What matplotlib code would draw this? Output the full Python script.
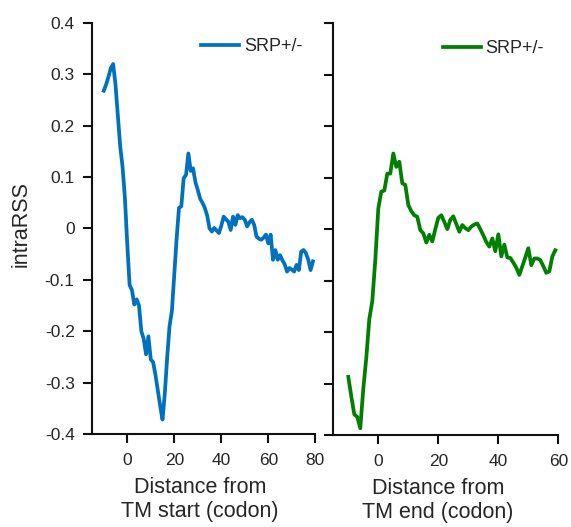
import numpy as np
import matplotlib.pyplot as plt

# intraRSS profiles around the transmembrane segment (SRP+/-)
start_pos = np.arange(-10, 80)
start_rss = [
    0.268, 0.280, 0.295, 0.312, 0.320, 0.280, 0.220, 0.160, 0.120, 0.060,
    -0.030, -0.110, -0.120, -0.148, -0.138, -0.150, -0.200, -0.215, -0.245, -0.210,
    -0.255, -0.260, -0.285, -0.315, -0.345, -0.372, -0.320, -0.250, -0.190, -0.160,
    -0.090, -0.020, 0.040, 0.043, 0.098, 0.104, 0.146, 0.112, 0.117, 0.090,
    0.075, 0.058, 0.050, 0.040, 0.025, 0.000, -0.006, 0.001, -0.004, -0.009,
    0.005, 0.023, 0.018, 0.013, -0.003, 0.023, 0.007, 0.026, 0.020, 0.022,
    0.017, 0.004, 0.012, 0.017, 0.007, -0.016, -0.020, -0.022, -0.018, -0.012,
    -0.029, -0.012, -0.061, -0.042, -0.061, -0.052, -0.062, -0.070, -0.084, -0.077,
    -0.080, -0.084, -0.071, -0.081, -0.045, -0.042, -0.048, -0.061, -0.081, -0.064,
]

end_pos = np.arange(-10, 60)
end_rss = [
    -0.287, -0.325, -0.360, -0.365, -0.387, -0.310, -0.250, -0.175, -0.140, -0.060,
    0.040, 0.073, 0.075, 0.108, 0.108, 0.147, 0.121, 0.131, 0.089, 0.086,
    0.047, 0.035, 0.027, 0.024, -0.002, -0.008, -0.026, -0.011, -0.024, 0.000,
    0.022, 0.027, 0.014, 0.000, 0.018, 0.025, 0.010, -0.005, 0.008, 0.002,
    -0.002, 0.005, 0.009, 0.011, 0.000, -0.012, -0.025, -0.034, -0.018, -0.043,
    -0.010, -0.053, -0.030, -0.055, -0.056, -0.065, -0.075, -0.089, -0.072, -0.055,
    -0.037, -0.070, -0.057, -0.057, -0.060, -0.072, -0.085, -0.082, -0.053, -0.041,
]

plt.rcParams['font.family'] = ['Liberation Sans', 'DejaVu Sans']
text_col = '#262626'

fig = plt.figure(figsize=(5.71, 5.27), dpi=100)
ax1 = fig.add_axes([0.1611, 0.1765, 0.3911, 0.78])
ax2 = fig.add_axes([0.5837, 0.1746, 0.3941, 0.7812])

ax1.plot(start_pos, start_rss, color='#0072BD', lw=2.7, label='SRP+/-')
ax2.plot(end_pos, end_rss, color='#008000', lw=2.7, label='SRP+/-')

for ax in (ax1, ax2):
    ax.set_ylim(-0.4, 0.4)
    ax.set_yticks(np.arange(-0.4, 0.41, 0.1))
    for s in ('top', 'right'):
        ax.spines[s].set_visible(False)
    for s in ('left', 'bottom'):
        ax.spines[s].set_linewidth(1.5)
        ax.spines[s].set_color('#111111')
    ax.tick_params(direction='out', length=6.5, width=1.5, labelsize=12.5,
                   colors='#111111', labelcolor=text_col)
    ax.tick_params(axis='y', pad=6)
    ax.tick_params(axis='x', pad=7.5)

ax1.set_xlim(-15, 80)
ax1.set_xticks([0, 20, 40, 60, 80])
ax1.set_yticklabels(['-0.4', '-0.3', '-0.2', '-0.1', '0', '0.1', '0.2', '0.3', '0.4'])
ax1.set_ylabel('intraRSS', fontsize=15.5, color=text_col)
ax1.yaxis.set_label_coords(-0.269, 0.51)
ax1.set_xlabel('Distance from\nTM start (codon)', fontsize=15.5, color=text_col,
               linespacing=1.2)
ax1.xaxis.set_label_coords(0.484, -0.104)

ax2.set_xlim(-15, 60)
ax2.set_xticks([0, 20, 40, 60])
ax2.set_yticklabels([])
ax2.set_xlabel('Distance from\nTM end (codon)', fontsize=15.5, color=text_col,
               linespacing=1.2)
ax2.xaxis.set_label_coords(0.465, -0.104)

for ax, anchor in ((ax1, (0.49, 0.942)), (ax2, (0.488, 0.938))):
    leg = ax.legend(loc='center left', bbox_to_anchor=anchor, frameon=False,
                    fontsize=13, handlelength=2.1, handletextpad=0.25,
                    borderpad=0, borderaxespad=0)
    for t in leg.get_texts():
        t.set_color(text_col)

fig.savefig('out.png', dpi=100)
